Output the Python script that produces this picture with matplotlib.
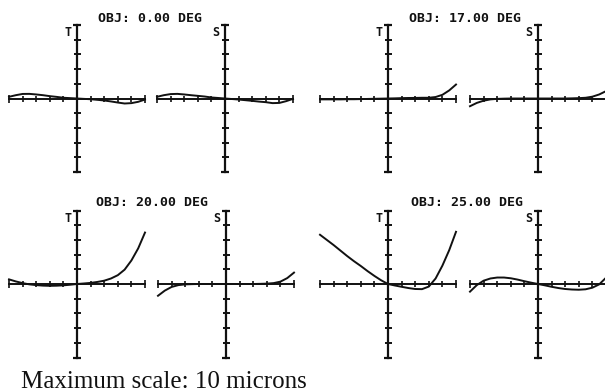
import numpy as np
import matplotlib
matplotlib.use("Agg")
import matplotlib.pyplot as plt

# Ray fan data: pupil coordinate vs. ray aberration (microns, full scale +-10)
pupil = np.round(np.linspace(-1.0, 1.0, 21), 2)

fields = ["OBJ: 0.00 DEG", "OBJ: 17.00 DEG", "OBJ: 20.00 DEG", "OBJ: 25.00 DEG"]

t_0 = [0.23, 0.45, 0.62, 0.63, 0.55, 0.45, 0.32, 0.22, 0.1, 0.05, 0.0,
       -0.05, -0.1, -0.18, -0.27, -0.4, -0.55, -0.68, -0.63, -0.45, -0.14]
s_0 = [0.23, 0.45, 0.6, 0.63, 0.55, 0.45, 0.36, 0.27, 0.14, 0.07, 0.0,
       -0.07, -0.14, -0.23, -0.32, -0.42, -0.5, -0.63, -0.6, -0.36, -0.05]
t_17 = [-0.12, -0.12, -0.12, -0.12, -0.1, -0.1, -0.08, -0.06, -0.04, -0.02, 0.0,
        0.02, 0.05, 0.07, 0.08, 0.1, 0.1, 0.2, 0.5, 1.1, 1.9]
s_17 = [-1.05, -0.6, -0.3, -0.12, -0.05, -0.02, 0.0, 0.0, 0.0, 0.0, 0.0,
        0.0, 0.0, 0.0, 0.0, 0.02, 0.05, 0.1, 0.25, 0.55, 1.0]
t_20 = [0.63, 0.35, 0.12, -0.05, -0.15, -0.22, -0.25, -0.23, -0.18, -0.1, 0.0,
        0.07, 0.15, 0.28, 0.45, 0.75, 1.2, 1.95, 3.2, 4.85, 7.0]
s_20 = [-1.6, -0.9, -0.4, -0.15, -0.05, -0.02, 0.0, 0.0, 0.0, 0.0, 0.0,
        0.0, 0.0, 0.0, 0.0, 0.02, 0.05, 0.12, 0.32, 0.8, 1.55]
t_25 = [6.7, 6.0, 5.3, 4.55, 3.8, 3.1, 2.45, 1.75, 1.1, 0.5, 0.0,
        -0.2, -0.38, -0.55, -0.68, -0.7, -0.35, 0.75, 2.5, 4.6, 7.1]
s_25 = [-1.04, -0.15, 0.45, 0.75, 0.88, 0.88, 0.78, 0.6, 0.38, 0.18, 0.0,
        -0.18, -0.38, -0.55, -0.68, -0.75, -0.78, -0.72, -0.5, -0.05, 0.85]

fans = [(t_0, s_0), (t_17, s_17), (t_20, s_20), (t_25, s_25)]

W, H = 605, 392
INK = "#111111"
mono = dict(family="DejaVu Sans Mono", weight="bold", color=INK)

# panel centres in pixels (x of T axis, x of S axis, y of horizontal axis)
centres = [(77, 225, 98.5), (388, 538, 98.5), (77, 226, 284), (388, 538, 284)]
title_pos = [(150, 18), (465, 18.5), (152, 202.5), (467, 202.5)]
HW, HH = 68, 73.5

fig = plt.figure(figsize=(W / 100, H / 100), dpi=100)
fig.patch.set_facecolor("white")


def fan_axes(cx, cy):
    ax = fig.add_axes([(cx - HW) / W, (H - cy - HH) / H, 2 * HW / W, 2 * HH / H])
    ax.set_xlim(-1, 1)
    ax.set_ylim(-10, 10)
    ax.axis("off")
    # px -> data units
    px_x = 1.0 / HW
    px_y = 10.0 / HH
    ax.plot([-1, 1], [0, 0], color=INK, lw=1.4, clip_on=False)
    ax.plot([0, 0], [-10, 10], color=INK, lw=1.6, clip_on=False)
    xt = [v for v in np.linspace(-0.8, 0.8, 9) if abs(v) > 1e-6]
    ax.vlines(xt, -3 * px_y, 3 * px_y, color=INK, lw=1.2, clip_on=False)
    ax.vlines([-1, 1], -4 * px_y, 4 * px_y, color=INK, lw=1.2, clip_on=False)
    yt = [v for v in np.arange(-8, 9, 2) if v != 0]
    ax.hlines(yt, -3.5 * px_x, 3.5 * px_x, color=INK, lw=1.4, clip_on=False)
    ax.hlines([-10, 10], -4 * px_x, 4 * px_x, color=INK, lw=1.6, clip_on=False)
    return ax


for i, (tcx, scx, cy) in enumerate(centres):
    t_vals, s_vals = fans[i]
    ax_t = fan_axes(tcx, cy)
    ax_t.plot(pupil, t_vals, color=INK, lw=1.4, clip_on=False)
    ax_s = fan_axes(scx, cy)
    ax_s.plot(pupil, s_vals, color=INK, lw=1.4, clip_on=False)
    fig.text((tcx - 8.5) / W, 1 - (cy - HH + 8) / H, "T", fontsize=8.5,
             ha="center", va="center", **mono)
    fig.text((scx - 9) / W, 1 - (cy - HH + 8) / H, "S", fontsize=8.5,
             ha="center", va="center", **mono)
    tx, ty = title_pos[i]
    fig.text(tx / W, 1 - ty / H, fields[i], fontsize=9.5,
             ha="center", va="center", **mono)

fig.text(21 / W, 4 / H, "Maximum scale: 10 microns", fontsize=18,
         family="Liberation Serif", color=INK, ha="left", va="baseline")

fig.savefig("out.png", dpi=100, facecolor="white")
